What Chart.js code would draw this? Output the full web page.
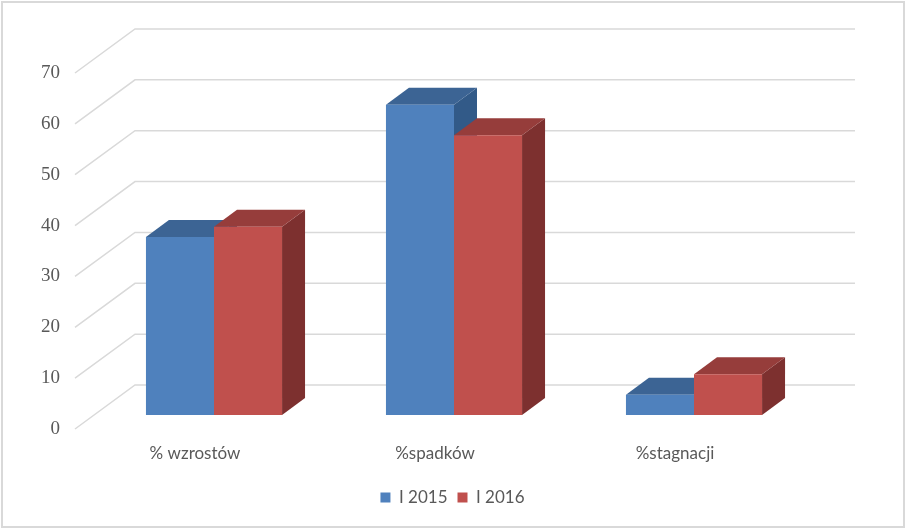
<!DOCTYPE html>
<html lang="pl">
<head>
<meta charset="UTF-8">
<title>Wzrosty / spadki</title>
<script src="https://cdn.jsdelivr.net/npm/chart.js"></script>
<style>
    html, body { margin: 0; padding: 0; background: #fff; }
    #wrap {
        position: relative;
        width: 905px;
        height: 528px;
    }
    #frame {
        position: absolute;
        left: 1px; top: 1px;
        width: 900px; height: 523px;
        border: 2px solid #d9d9d9;
        pointer-events: none;
    }
</style>
</head>
<body>
<div id="wrap">
    <canvas id="myChart"></canvas>
    <div id="frame"></div>
</div>

<script>
const categories = ['% wzrostów', '%spadków', '%stagnacji'];
const seriesNames = ['I 2015', 'I 2016'];
const values2015 = [35, 61, 4];
const values2016 = [37, 55, 8];
const yTicks = [0, 10, 20, 30, 40, 50, 60, 70];

// oblique "3D" offsets (pixels)
const WALL = { dx: 60, dy: -44 };   // back wall vs. front plane
const SHIFT = { dx: 19, dy: -14 };  // bar front face vs. front plane
const DEPTH = { dx: 23, dy: -17 };  // bar depth

const shades = [
    { front: '#4F81BD', top: '#3C6494', side: '#325A88' },
    { front: '#C0504D', top: '#963D3B', side: '#7D302F' }
];

const fake3d = {
    id: 'fake3d',
    beforeDatasetsDraw(chart) {
        const { ctx, chartArea: a, scales: { y } } = chart;
        ctx.save();
        ctx.strokeStyle = '#d9d9d9';
        ctx.lineWidth = 1.5;
        yTicks.forEach(v => {
            const py = y.getPixelForValue(v);
            ctx.beginPath();
            ctx.moveTo(a.left, py);
            ctx.lineTo(a.left + WALL.dx, py + WALL.dy);
            ctx.lineTo(a.right + WALL.dx, py + WALL.dy);
            ctx.stroke();
        });
        ctx.restore();

        // side and top faces, left series first so the right one overlaps it
        ctx.save();
        ctx.translate(SHIFT.dx, SHIFT.dy);
        chart.data.datasets.forEach((ds, i) => {
            const c = shades[i];
            chart.getDatasetMeta(i).data.forEach(bar => {
                const l = bar.x - bar.width / 2, r = bar.x + bar.width / 2;
                const t = bar.y, b = bar.base;
                ctx.fillStyle = c.side;
                ctx.beginPath();
                ctx.moveTo(r, t);
                ctx.lineTo(r + DEPTH.dx, t + DEPTH.dy);
                ctx.lineTo(r + DEPTH.dx, b + DEPTH.dy);
                ctx.lineTo(r, b);
                ctx.closePath();
                ctx.fill();
                ctx.fillStyle = c.top;
                ctx.beginPath();
                ctx.moveTo(l, t);
                ctx.lineTo(l + DEPTH.dx, t + DEPTH.dy);
                ctx.lineTo(r + DEPTH.dx, t + DEPTH.dy);
                ctx.lineTo(r, t);
                ctx.closePath();
                ctx.fill();
            });
        });
        ctx.restore();
    },
    // front faces are drawn by Chart.js, shifted into the bar plane
    beforeDatasetDraw(chart) {
        chart.ctx.save();
        chart.ctx.translate(SHIFT.dx, SHIFT.dy);
    },
    afterDatasetDraw(chart) {
        chart.ctx.restore();
    }
};

let ctx = document.getElementById('myChart').getContext('2d');
let myChart = new Chart(ctx, {
    type: 'bar',
    data: {
        labels: categories,
        datasets: [{
            label: seriesNames[0],
            data: values2015,
            backgroundColor: shades[0].front,
            clip: false
        }, {
            label: seriesNames[1],
            data: values2016,
            backgroundColor: shades[1].front,
            clip: false
        }]
    },
    options: {
        responsive: true,
        maintainAspectRatio: false,
        animation: false,
        events: [],
        categoryPercentage: 0.567,
        barPercentage: 1.0,
        layout: { padding: { top: 73, right: 0, bottom: 12, left: 0 } },
        scales: {
            x: {
                grid: { display: false, drawTicks: false },
                border: { display: false },
                ticks: {
                    color: '#595959',
                    font: { family: 'Lato', size: 17 },
                    padding: 14,
                    maxRotation: 0
                },
                afterFit: s => { s.height = 50; }
            },
            y: {
                min: 0,
                max: 70,
                grid: { display: false, drawTicks: false },
                border: { display: false },
                ticks: {
                    stepSize: 10,
                    color: '#595959',
                    font: { family: 'Liberation Serif', size: 19 },
                    padding: 15
                },
                afterFit: s => { s.width = 75; }
            },
            // empty right-hand box: keeps room for the back wall
            spacer: {
                type: 'linear',
                position: 'right',
                grid: { display: false, drawTicks: false },
                border: { display: false },
                ticks: { display: false },
                afterFit: s => { s.width = 110; }
            }
        },
        plugins: {
            legend: {
                position: 'bottom',
                labels: {
                    color: '#595959',
                    font: { family: 'Lato', size: 17 },
                    boxWidth: 10,
                    boxHeight: 10,
                    padding: 10
                }
            },
            tooltip: { enabled: false }
        }
    },
    plugins: [fake3d]
});
</script>
</body>
</html>
